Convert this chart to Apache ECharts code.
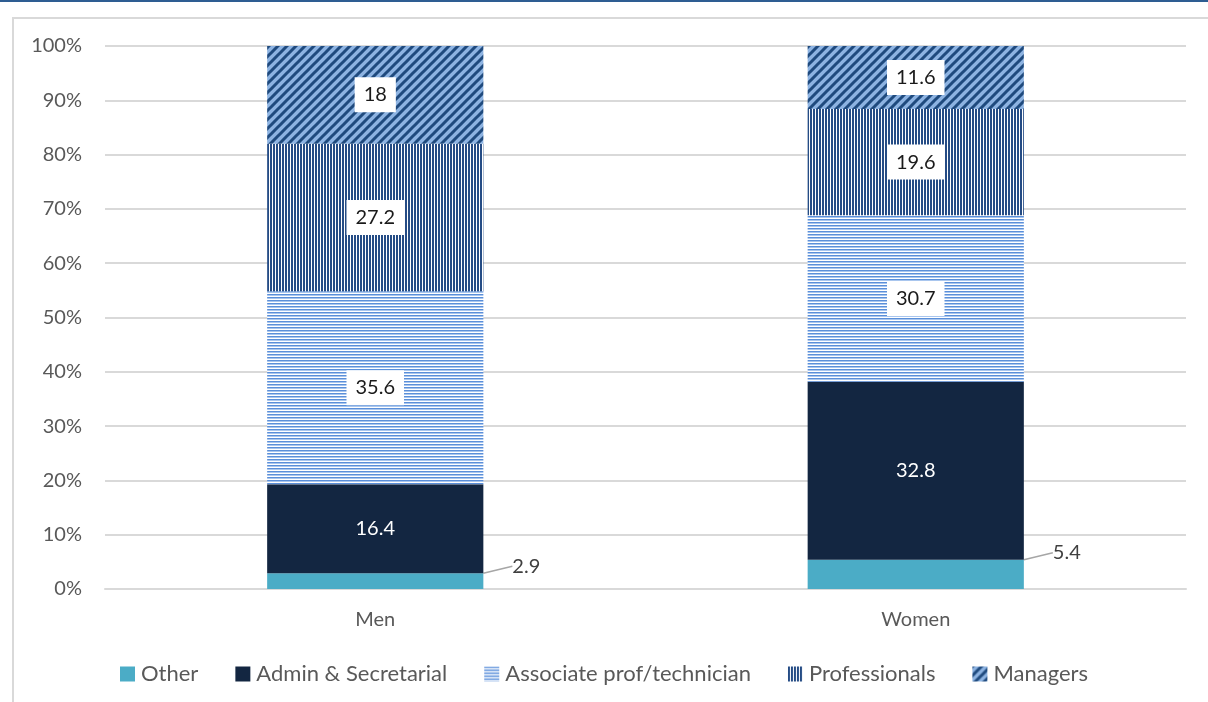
<!DOCTYPE html>
<html>
<head>
<meta charset="utf-8">
<script src="https://cdn.jsdelivr.net/npm/echarts@6/dist/echarts.min.js"></script>
<style>
  html, body { margin: 0; padding: 0; background: #fff; }
  #chart { width: 1208px; height: 702px; }
</style>
</head>
<body>
<div id="chart"></div>
<script>
var categories = ['Men', 'Women'];
var seriesNames = ['Other', 'Admin & Secretarial', 'Associate prof/technician', 'Professionals', 'Managers'];
var otherVals = [2.9, 5.4];
var adminVals = [16.4, 32.8];
var assocVals = [35.6, 30.7];
var profVals = [27.2, 19.6];
var managerVals = [18, 11.6];
var yTicks = [0, 10, 20, 30, 40, 50, 60, 70, 80, 90, 100];

var rawSets = [otherVals, adminVals, assocVals, profVals, managerVals];

// 100% stacked: share of each category total
var totals = categories.map(function (c, i) {
  return rawSets.reduce(function (s, arr) { return s + arr[i]; }, 0);
});
function pct(arr) {
  return arr.map(function (v, i) { return v / totals[i] * 100; });
}

function makeTile(w, h, draw) {
  var c = document.createElement('canvas');
  c.width = w; c.height = h;
  var ctx = c.getContext('2d');
  draw(ctx);
  return { image: c, repeat: 'repeat' };
}

var diagPattern = makeTile(9, 9, function (ctx) {
  ctx.fillStyle = '#8db3e2';
  ctx.fillRect(0, 0, 9, 9);
  ctx.strokeStyle = '#1f4a7e';
  ctx.lineWidth = 3;
  ctx.beginPath();
  ctx.moveTo(-2, 11); ctx.lineTo(11, -2);
  ctx.moveTo(-11, 11); ctx.lineTo(2, -2);
  ctx.moveTo(7, 11); ctx.lineTo(20, -2);
  ctx.stroke();
});
var vertPattern = makeTile(3, 3, function (ctx) {
  ctx.fillStyle = '#ffffff';
  ctx.fillRect(0, 0, 3, 3);
  ctx.fillStyle = '#254c85';
  ctx.fillRect(0, 0, 2, 3);
});
var horizPattern = makeTile(3, 3, function (ctx) {
  ctx.fillStyle = '#ffffff';
  ctx.fillRect(0, 0, 3, 3);
  ctx.fillStyle = '#5b8fd9';
  ctx.fillRect(0, 0, 3, 1);
  ctx.fillStyle = '#a9c6ee';
  ctx.fillRect(0, 1, 3, 1);
});

var fontFam = 'Lato, "Open Sans", sans-serif';
var fs = 20;

function boxLabel(raw) {
  return {
    show: true,
    position: 'inside',
    backgroundColor: '#ffffff',
    padding: [8, 9, 7, 9],
    color: '#1a1a1a',
    fontSize: fs,
    fontFamily: fontFam,
    formatter: function (p) { return raw[p.dataIndex]; }
  };
}

var series = [
  {
    name: seriesNames[0], type: 'bar', stack: 'all', barWidth: '40%',
    data: pct(otherVals),
    itemStyle: { color: '#4bacc6' },
    label: {
      show: true, position: 'right', color: '#404040', fontSize: fs, fontFamily: fontFam,
      padding: [0, 0, 0, 8],
      formatter: function (p) { return otherVals[p.dataIndex]; }
    },
    labelLayout: function (params) {
      return {
        x: params.rect.x + params.rect.width + 21,
        y: params.rect.y - 7,
        align: 'left',
        verticalAlign: 'middle'
      };
    },
    labelLine: { show: true, length2: 0, lineStyle: { color: '#a6a6a6', width: 1.5 } }
  },
  {
    name: seriesNames[1], type: 'bar', stack: 'all',
    data: pct(adminVals),
    itemStyle: { color: '#132641' },
    label: {
      show: true, position: 'inside', color: '#ffffff', fontSize: fs, fontFamily: fontFam,
      formatter: function (p) { return adminVals[p.dataIndex]; }
    }
  },
  {
    name: seriesNames[2], type: 'bar', stack: 'all',
    data: pct(assocVals),
    itemStyle: { color: horizPattern },
    label: boxLabel(assocVals)
  },
  {
    name: seriesNames[3], type: 'bar', stack: 'all',
    data: pct(profVals),
    itemStyle: { color: vertPattern },
    label: boxLabel(profVals)
  },
  {
    name: seriesNames[4], type: 'bar', stack: 'all',
    data: pct(managerVals),
    itemStyle: { color: diagPattern },
    label: boxLabel(managerVals)
  }
];

var chart = echarts.init(document.getElementById('chart'), null, { renderer: 'canvas' });
chart.setOption({
  animation: false,
  backgroundColor: '#ffffff',
  textStyle: { fontFamily: fontFam },
  graphic: [
    { type: 'rect', shape: { x: 0, y: 0, width: 1208, height: 2 }, style: { fill: '#2e5d92' }, silent: true },
    { type: 'polyline', shape: { points: [[13, 702], [13, 18], [1208, 18]] }, style: { stroke: '#d9d9d9', lineWidth: 2, fill: null }, silent: true }
  ],
  grid: { left: 105, right: 22, top: 46, bottom: 113, containLabel: false },
  legend: {
    top: 658,
    left: 'center',
    itemWidth: 15,
    itemHeight: 15,
    itemGap: 37,
    icon: 'rect',
    textStyle: { color: '#595959', fontSize: 22, fontFamily: fontFam, padding: [0, 0, 0, 1] },
    data: seriesNames
  },
  xAxis: {
    type: 'category',
    data: categories,
    axisLine: { lineStyle: { color: '#d9d9d9', width: 2 } },
    axisTick: { show: false },
    axisLabel: { color: '#595959', fontSize: fs, margin: 21 }
  },
  yAxis: {
    type: 'value',
    min: yTicks[0],
    max: yTicks[yTicks.length - 1],
    interval: yTicks[1] - yTicks[0],
    axisLine: { show: false },
    axisTick: { show: false },
    splitLine: { lineStyle: { color: '#d9d9d9', width: 2 } },
    axisLabel: { color: '#595959', fontSize: fs, margin: 23, formatter: '{value}%' }
  },
  series: series
});
</script>
</body>
</html>
